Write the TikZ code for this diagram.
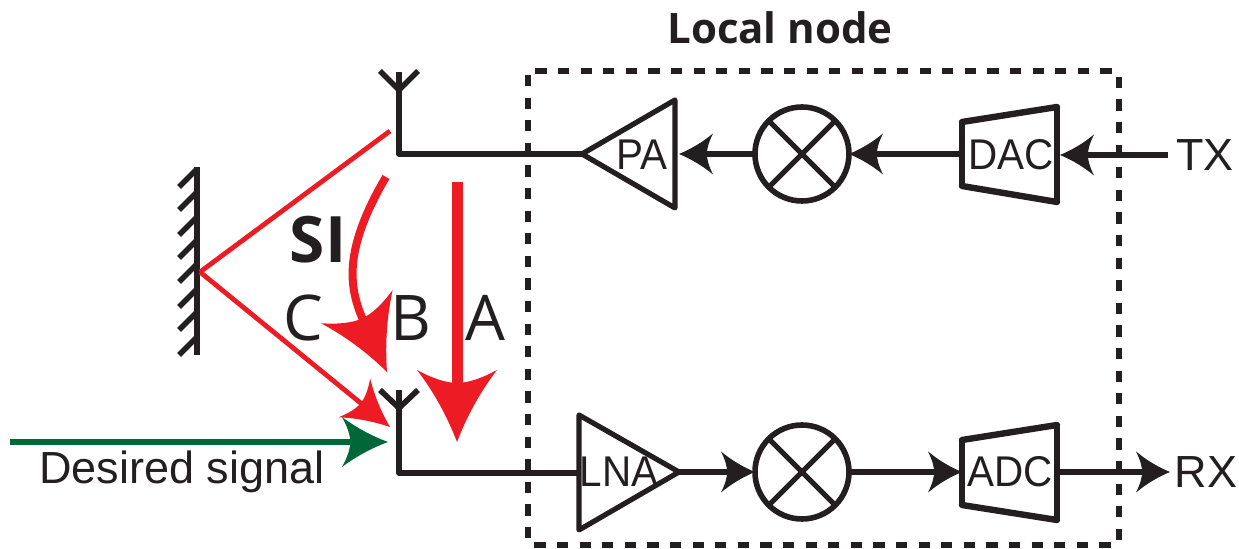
\documentclass[tikz,border=0pt]{standalone}
\usepackage{fontspec}
\setmainfont{Liberation Sans}
\newfontfamily\tagfont{Open Sans}
\usetikzlibrary{arrows.meta}

\definecolor{inkblack}{HTML}{231F20}
\definecolor{sired}{HTML}{ED1C24}
\definecolor{sigreen}{HTML}{006838}

% Head with hollow flanks
\pgfdeclarearrow{
    name=Swoop,
    parameters={\the\pgfarrowlength,\the\pgfarrowwidth},
    setup code={
        \pgfarrowssettipend{0pt}
        \pgfarrowssetbackend{-\pgfarrowlength}
        \pgfarrowssetlineend{-.7\pgfarrowlength}
        \pgfarrowssavethe\pgfarrowlength
        \pgfarrowssavethe\pgfarrowwidth
    },
    drawing code={
        \pgfpathmoveto{\pgfqpoint{0pt}{0pt}}
        \pgfpathquadraticcurveto{\pgfqpoint{-.55\pgfarrowlength}{.19\pgfarrowwidth}}
            {\pgfqpoint{-\pgfarrowlength}{.5\pgfarrowwidth}}
        \pgfpathquadraticcurveto{\pgfqpoint{-.82\pgfarrowlength}{.2\pgfarrowwidth}}
            {\pgfqpoint{-.82\pgfarrowlength}{0pt}}
        \pgfpathquadraticcurveto{\pgfqpoint{-.82\pgfarrowlength}{-.2\pgfarrowwidth}}
            {\pgfqpoint{-\pgfarrowlength}{-.5\pgfarrowwidth}}
        \pgfpathquadraticcurveto{\pgfqpoint{-.55\pgfarrowlength}{-.19\pgfarrowwidth}}
            {\pgfqpoint{0pt}{0pt}}
        \pgfpathclose
        \pgfusepathqfill
    },
    defaults={length=17pt,width=20.5pt}
}

\tikzset{
    sigline/.style={line width=2.8pt,draw=inkblack},
    sigarrow/.style={sigline,-{Swoop[length=17pt,width=20.5pt]}},
    blockline/.style={line width=2.6pt,draw=inkblack,line join=round},
    slantline/.style={line width=3.2pt,draw=inkblack,line cap=round},
    mixer/.style={circle,draw=inkblack,line width=2.8pt,minimum size=47pt,inner sep=0pt,outer sep=0pt},
    blocktext/.style={inner sep=0pt,text=inkblack,font=\fontsize{21.5}{21.5}\selectfont,xscale=.94},
    porttext/.style={inner sep=0pt,text=inkblack,font=\fontsize{22.5}{22.5}\selectfont},
    pathtext/.style={inner sep=0pt,text=inkblack,font=\tagfont\fontsize{31.5}{31.5}\selectfont}
}

\begin{document}
\begin{tikzpicture}[x=.5pt,y=-.5pt]
    \useasboundingbox (0,0) rectangle (1239,549);

    % Local node box
    \draw [inkblack,line width=2.7pt,rounded corners=2pt,dash pattern=on 5.6pt off 5.7pt]
        (528,71) rectangle (1119,545);
    \node (localnode) [inner sep=0pt,text=inkblack,font=\tagfont\bfseries\fontsize{21}{21}\selectfont]
        at (780,28) {Local node};

    % Transmit chain
    \node (mix_tx) [mixer] at (802,154) {};
    \draw [blockline] (mix_tx.45) -- (mix_tx.225) (mix_tx.135) -- (mix_tx.315);
    \node (pa) [blocktext] at (642,155) {PA};
    \node (dac) [blocktext] at (1011,155) {DAC};
    \node (tx) [porttext] at (1205,155) {TX};
    \coordinate (pa_tip) at (582,154);
    \coordinate (pa_in) at (679,154);
    \coordinate (dac_in) at (1060,155);
    \coordinate (dac_out) at (962,154);
    \draw [blockline] (pa_tip) -- (675,100) -- (675,208) -- cycle;
    \draw [blockline] (962,122) -- (962,186) (1057,107) -- (1057,202);
    \draw [slantline] (962,122) -- (1057,107) (962,186) -- (1057,202);
    \draw [sigarrow] (mix_tx.west) -- (pa_in);
    \draw [sigarrow] (dac_out) -- (mix_tx.east);
    \draw [sigarrow] (tx.west) ++(-8,0) -- (dac_in);

    % Receive chain
    \node (mix_rx) [mixer] at (802,472) {};
    \draw [blockline] (mix_rx.45) -- (mix_rx.225) (mix_rx.135) -- (mix_rx.315);
    \node (lna) [blocktext] at (619,472) {LNA};
    \node (adc) [blocktext] at (1010,472) {ADC};
    \node (rx) [porttext] at (1206,472) {RX};
    \coordinate (lna_tip) at (679,472);
    \coordinate (lna_in) at (579,473);
    \coordinate (adc_in) at (962,472);
    \coordinate (adc_out) at (1057,472);
    \coordinate (rx_in) at (1170,472);
    \draw [blockline] (579,415) -- (lna_tip) -- (579,530) -- cycle;
    \draw [blockline] (962,440) -- (962,505) (1057,425) -- (1057,520);
    \draw [slantline] (962,440) -- (1057,425) (962,505) -- (1057,520);
    \draw [sigarrow] (lna_tip) -- (mix_rx.west);
    \draw [sigarrow] (mix_rx.east) -- (adc_in);
    \draw [sigarrow] (adc_out) -- (rx_in);

    % Antennas
    \coordinate (ant_tx) at (399,90);
    \coordinate (ant_rx) at (399,408);
    \draw [sigline,line join=round] (399,72) |- (pa_tip);
    \draw [sigline] (380,71) -- (ant_tx) -- (418,71);
    \draw [sigline,line join=round] (399,390) |- (lna_in);
    \draw [sigline] (380,390) -- (ant_rx) -- (418,390);

    % Reflecting wall
    \draw [sigline] (197,167) -- (197,355);
    \foreach \y in {187,210,235,258,282,307,330,355} {
        \draw [sigline] (179,\y) -- (197,\y-18);
    }

    % Self-interference paths
    \coordinate (wall_hit) at (200,272);
    \draw [sired,line width=2.4pt] (390,131) -- (wall_hit);
    \draw [sired,line width=2.4pt,-{Swoop[length=23pt,width=25pt]}] (wall_hit) -- (390,427);
    \draw [sired,line width=4pt,-{Swoop[length=36pt,width=39.5pt]}]
        (386,177) .. controls (340,255) and (350,292) .. (387,372);
    \draw [sired,line width=5.5pt,-{Swoop[length=36pt,width=40pt]}] (457,182) -- (457,442);
    \node (si) [inner sep=0pt,text=inkblack,font=\tagfont\bfseries\fontsize{32}{32}\selectfont] at (318,240) {SI};
    \node (path_c) [pathtext] at (303,318) {C};
    \node (path_b) [pathtext] at (411,318) {B};
    \node (path_a) [pathtext] at (485,318) {A};

    % Wanted signal
    \coordinate (sig_start) at (10,442);
    \coordinate (sig_end) at (388,442);
    \draw [sigreen,line width=2.9pt,-{Swoop[length=23pt,width=25pt]}] (sig_start) -- (sig_end);
    \node (desired) [porttext,anchor=base] at (182,484) {Desired signal};
\end{tikzpicture}
\end{document}
